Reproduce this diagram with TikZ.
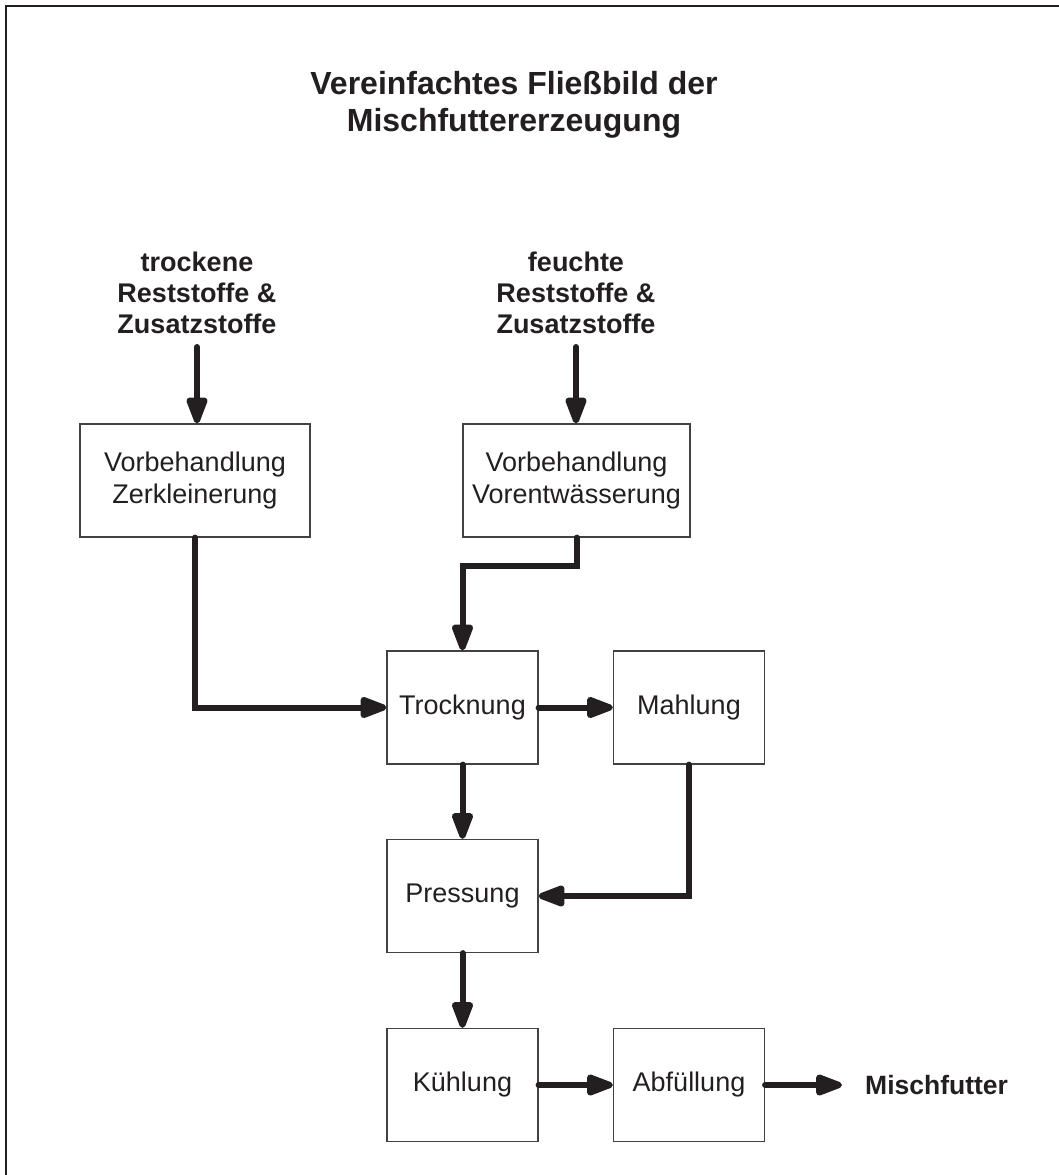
\documentclass[tikz,border=0pt]{standalone}
\usepackage{fontspec}
\setmainfont{Liberation Sans}
\usetikzlibrary{arrows.meta}
\definecolor{ink}{HTML}{231F20}
\begin{document}
\begin{tikzpicture}[x=1pt,y=-1pt,
  every node/.style={text=ink},
  stepbox/.style={draw=ink!85, line width=1.2pt, minimum height=113pt,
    align=center, font=\fontsize{27}{32}\selectfont, inner sep=0pt},
  smallbox/.style={stepbox, minimum width=151pt},
  label/.style={align=center, font=\bfseries\fontsize{27}{31}\selectfont},
  flow/.style={draw=ink, line width=6pt, line cap=round,
    -{Triangle[length=32pt,width=22pt,round=false]}, shorten >=0pt},
]
\useasboundingbox (0,0) rectangle (1058,1175);
% outer frame (left and top edges)
\draw[line width=2.5pt, draw=ink] (6,1190) -- (6,6) -- (1070,6);

% title
\node[align=center, font=\bfseries\fontsize{32}{37}\selectfont] (title) at (514,105)
  {Vereinfachtes Flie\ss bild der\\Mischfuttererzeugung};

% inputs
\node[label] (inA) at (197,293) {trockene\\Reststoffe \&\\Zusatzstoffe};
\node[label] (inB) at (576,293) {feuchte\\Reststoffe \&\\Zusatzstoffe};
\coordinate (srcA) at (197,347);
\coordinate (srcB) at (576,347);

% process steps
\node[stepbox, minimum width=230pt] (A) at (195,480.5) {Vorbehandlung\\Zerkleinerung};
\node[stepbox, minimum width=227pt] (B) at (576.5,480.5) {Vorbehandlung\\Vorentw\"asserung};
\node[smallbox] (T) at (462.5,707.5) {Trocknung};
\node[smallbox] (M) at (689,707.5) {Mahlung};
\node[smallbox] (P) at (462.5,896) {Pressung};
\node[smallbox] (K) at (462.5,1085) {K\"uhlung};
\node[smallbox] (F) at (689,1085) {Abf\"ullung};
\node[font=\bfseries\fontsize{26.5}{31}\selectfont, anchor=west, inner xsep=23pt, inner ysep=0pt]
  (out) at (842,1085) {Mischfutter};

% material flow
\draw[flow] (srcA) -- (srcA |- A.north);
\draw[flow] (srcB) -- (srcB |- B.north);
\draw[flow] (A.south) |- (T.west);
\draw[flow] (B.south) -- ++(0,28) -| (T.north);
\draw[flow] (T.east) -- (M.west);
\draw[flow] (T.south) -- (P.north);
\draw[flow] (M.south) |- (P.east);
\draw[flow] (P.south) -- (K.north);
\draw[flow] (K.east) -- (F.west);
\draw[flow] (F.east) -- (out.west);
\end{tikzpicture}
\end{document}
